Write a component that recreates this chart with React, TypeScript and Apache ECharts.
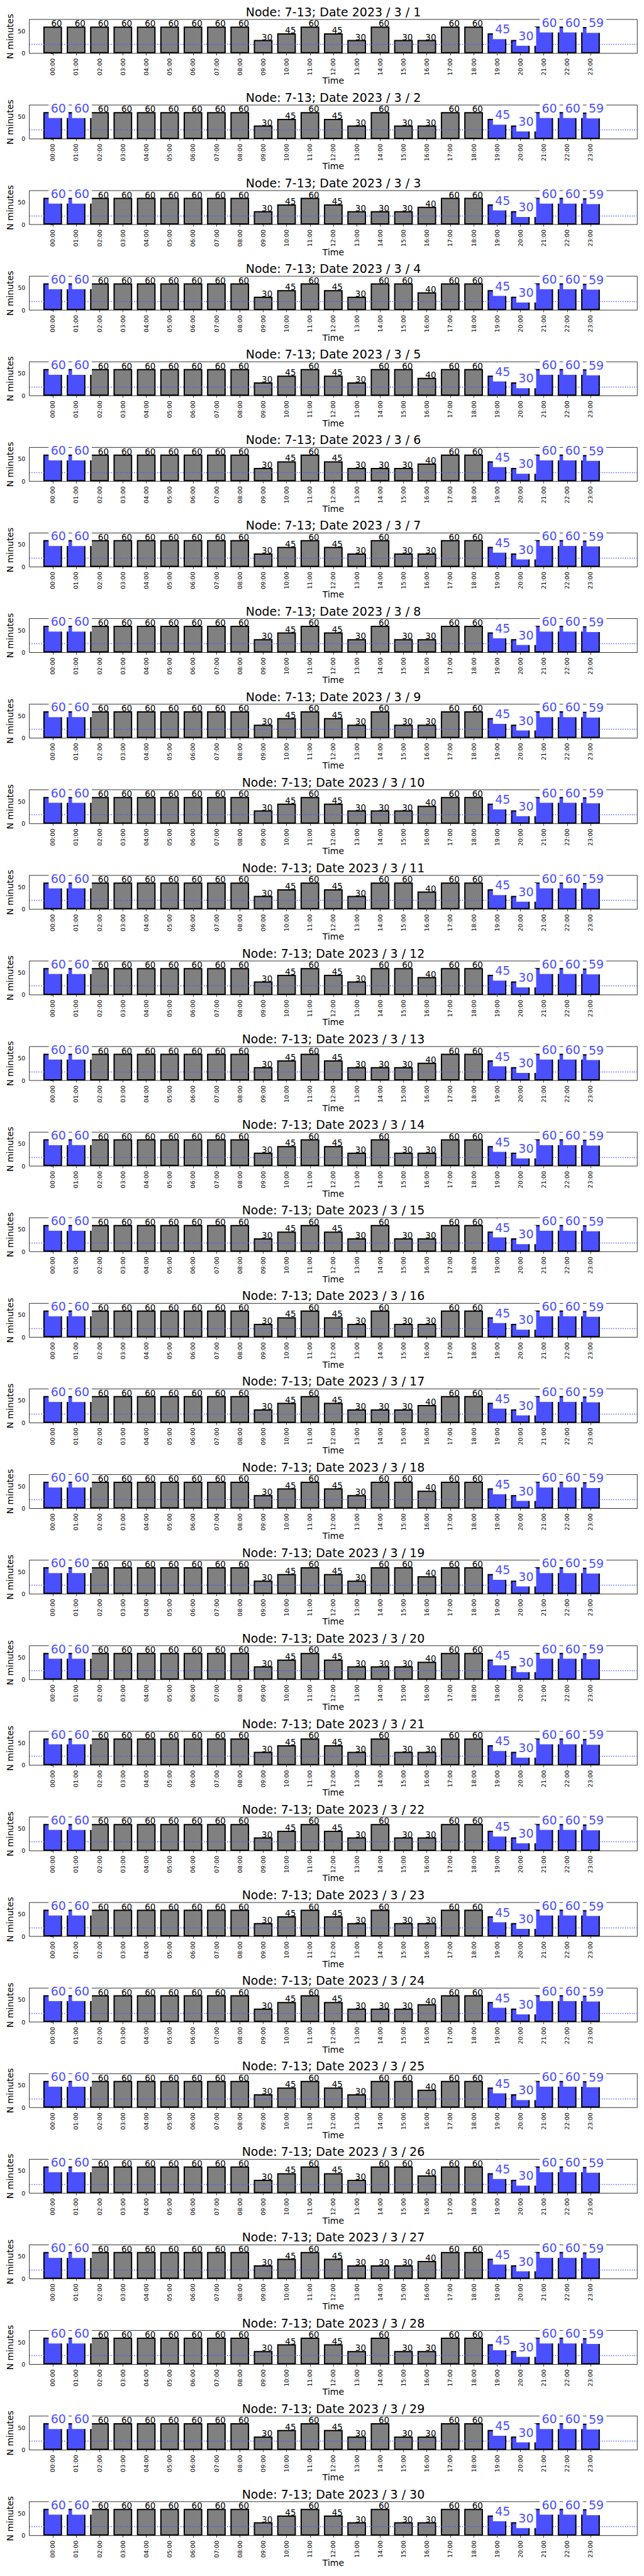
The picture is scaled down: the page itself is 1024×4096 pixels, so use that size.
import React, { useEffect, useRef } from "react";
import * as echarts from "echarts";

// ---------------- data ----------------
const HOURS = [
  "00:00", "01:00", "02:00", "03:00", "04:00", "05:00", "06:00", "07:00",
  "08:00", "09:00", "10:00", "11:00", "12:00", "13:00", "14:00", "15:00",
  "16:00", "17:00", "18:00", "19:00", "20:00", "21:00", "22:00", "23:00",
];
const HOUR_POS = [0, 1, 2, 3, 4, 5, 6, 7, 8, 9, 10, 11, 12, 13, 14, 15, 16, 17, 18, 19, 20, 21, 22, 23];

const PATTERN_A = [60, 60, 60, 60, 60, 60, 60, 60, 60, 30, 45, 60, 45, 30, 60, 30, 30, 60, 60, 45, 30, 60, 60, 59];
const PATTERN_B = [60, 60, 60, 60, 60, 60, 60, 60, 60, 30, 45, 60, 45, 30, 30, 30, 40, 60, 60, 45, 30, 60, 60, 59];
const PATTERN_C = [60, 60, 60, 60, 60, 60, 60, 60, 60, 30, 45, 60, 45, 30, 60, 60, 40, 60, 60, 45, 30, 60, 60, 59];

const DAYS = [1, 2, 3, 4, 5, 6, 7, 8, 9, 10, 11, 12, 13, 14, 15, 16, 17, 18, 19, 20, 21, 22, 23, 24, 25, 26, 27, 28, 29, 30];
const DAY_PATTERN = [
  "A", "A", "B", "C", "C", "B", "A", "A", "A", "B",
  "C", "C", "B", "A", "A", "A", "B", "C", "C", "B",
  "A", "A", "A", "B", "C", "C", "B", "A", "A", "A",
];
const HIGHLIGHT_FIRST_DAY = [19, 20, 21, 22, 23];
const HIGHLIGHT_OTHER_DAYS = [0, 1, 19, 20, 21, 22, 23];

const THRESHOLD = 20;
const NOW_HOUR = 19;
const Y_MAX = 76;
const Y_TICKS = [0, 50];
const X_MIN = -1;
const X_MAX = 25;

// ---------------- layout / style ----------------
const W = 1024;
const H = 4096;
const GRID_LEFT = 46.6;
const GRID_W = 966.7;
const GRID_TOP0 = 30.9;
const PITCH = 136.1;
const GRID_H = 53.9;
const BAR_W = (0.8 * GRID_W) / (X_MAX - X_MIN);

const BLUE = "#4b50ff";
const GRAY = "#808080";
const FONT = "DejaVu Sans";

function patternFor(p: string): number[] {
  if (p === "B") return PATTERN_B;
  if (p === "C") return PATTERN_C;
  return PATTERN_A;
}

function buildOption() {
  const grids: any[] = [];
  const xAxes: any[] = [];
  const yAxes: any[] = [];
  const titles: any[] = [];
  const series: any[] = [];

  DAYS.forEach((day, i) => {
    const top = GRID_TOP0 + i * PITCH;
    const values = patternFor(DAY_PATTERN[i]);
    const hl = i === 0 ? HIGHLIGHT_FIRST_DAY : HIGHLIGHT_OTHER_DAYS;

    grids.push({
      left: GRID_LEFT,
      top,
      width: GRID_W,
      height: GRID_H,
      show: true,
      borderColor: "#000",
      borderWidth: 0.8,
      backgroundColor: "transparent",
      containLabel: false,
      outerBoundsMode: "none",
    });

    titles.push({
      text: "Node: 7-13; Date 2023 / 3 / " + day,
      left: GRID_LEFT + GRID_W / 2,
      top: top - 21.6,
      textAlign: "center",
      textVerticalAlign: "top",
      padding: 0,
      textStyle: { fontSize: 19, fontWeight: "normal", color: "#000", fontFamily: FONT },
    });

    xAxes.push({
      type: "value",
      gridIndex: i,
      min: X_MIN,
      max: X_MAX,
      name: "Time",
      nameLocation: "middle",
      nameGap: 36.5,
      nameMoveOverlap: false,
      nameTextStyle: { fontSize: 14, color: "#000", fontFamily: FONT },
      axisLine: { show: false },
      splitLine: { show: false },
      axisTick: {
        show: true,
        customValues: HOUR_POS,
        length: 3.3,
        lineStyle: { color: "#000", width: 0.8 },
      },
      axisLabel: {
        show: true,
        customValues: HOUR_POS,
        rotate: 90,
        margin: 7.9,
        fontSize: 9.5,
        color: "#000",
        fontFamily: FONT,
        formatter: (v: number) => HOURS[Math.round(v)] ?? "",
      },
    });

    yAxes.push({
      type: "value",
      gridIndex: i,
      min: 0,
      max: Y_MAX,
      name: "N minutes",
      nameLocation: "middle",
      nameRotate: 90,
      nameGap: 24.1,
      nameMoveOverlap: false,
      nameTextStyle: { fontSize: 14, color: "#000", fontFamily: FONT },
      axisLine: { show: false },
      splitLine: { show: false },
      axisTick: {
        show: true,
        customValues: Y_TICKS,
        length: 3.3,
        lineStyle: { color: "#000", width: 0.8 },
      },
      axisLabel: {
        show: true,
        customValues: Y_TICKS,
        margin: 6.2,
        fontSize: 9.5,
        color: "#000",
        fontFamily: FONT,
      },
    });

    // visible bars + dotted reference lines
    series.push({
      type: "bar",
      name: "minutes-" + day,
      xAxisIndex: i,
      yAxisIndex: i,
      z: 2,
      barWidth: BAR_W,
      barGap: "-100%",
      silent: true,
      itemStyle: { borderColor: "#000", borderWidth: 2 },
      label: { show: false },
      data: values.map((v, h) => ({
        value: [HOUR_POS[h], v],
        itemStyle: { color: hl.includes(h) ? BLUE : GRAY, borderColor: "#000", borderWidth: 2 },
      })),
      markLine: {
        z: 4,
        silent: true,
        animation: false,
        symbol: ["none", "none"],
        label: { show: false },
        lineStyle: { color: BLUE, width: 1.4, type: [1.4, 2.3] },
        emphasis: { disabled: true },
        data: [{ yAxis: THRESHOLD }, { xAxis: NOW_HOUR }],
      },
    });

    // transparent overlay carrying the value labels (drawn above reference lines)
    series.push({
      type: "bar",
      name: "labels-" + day,
      xAxisIndex: i,
      yAxisIndex: i,
      z: 6,
      barWidth: BAR_W,
      barGap: "-100%",
      silent: true,
      itemStyle: { color: "rgba(0,0,0,0)", borderWidth: 0 },
      label: {
        show: true,
        position: ["50%", 0],
        align: "left",
        verticalAlign: "bottom",
        offset: [-2.3, 2.1],
        fontSize: 13.5,
        color: "#000",
        fontFamily: FONT,
        formatter: (p: any) => String(p.value[1]),
      },
      data: values.map((v, h) =>
        hl.includes(h)
          ? {
              value: [HOUR_POS[h], v],
              label: {
                color: BLUE,
                fontSize: 19,
                backgroundColor: "#fff",
                padding: [4.55, 3.95, 6.37, 3.35],
                offset: [-6.4, 9.3],
              },
            }
          : { value: [HOUR_POS[h], v] }
      ),
    });
  });

  return {
    animation: false,
    backgroundColor: "#fff",
    textStyle: { fontFamily: FONT },
    title: titles,
    grid: grids,
    xAxis: xAxes,
    yAxis: yAxes,
    series,
  };
}

export default function App() {
  const ref = useRef<HTMLDivElement>(null);
  useEffect(() => {
    if (!ref.current) return;
    const chart = echarts.init(ref.current, undefined, { renderer: "svg", width: W, height: H });
    chart.setOption(buildOption() as any);
    return () => chart.dispose();
  }, []);
  return (
    <div
      ref={ref}
      style={{ position: "absolute", left: 0, top: 0, width: W, height: H, background: "#fff" }}
    />
  );
}
